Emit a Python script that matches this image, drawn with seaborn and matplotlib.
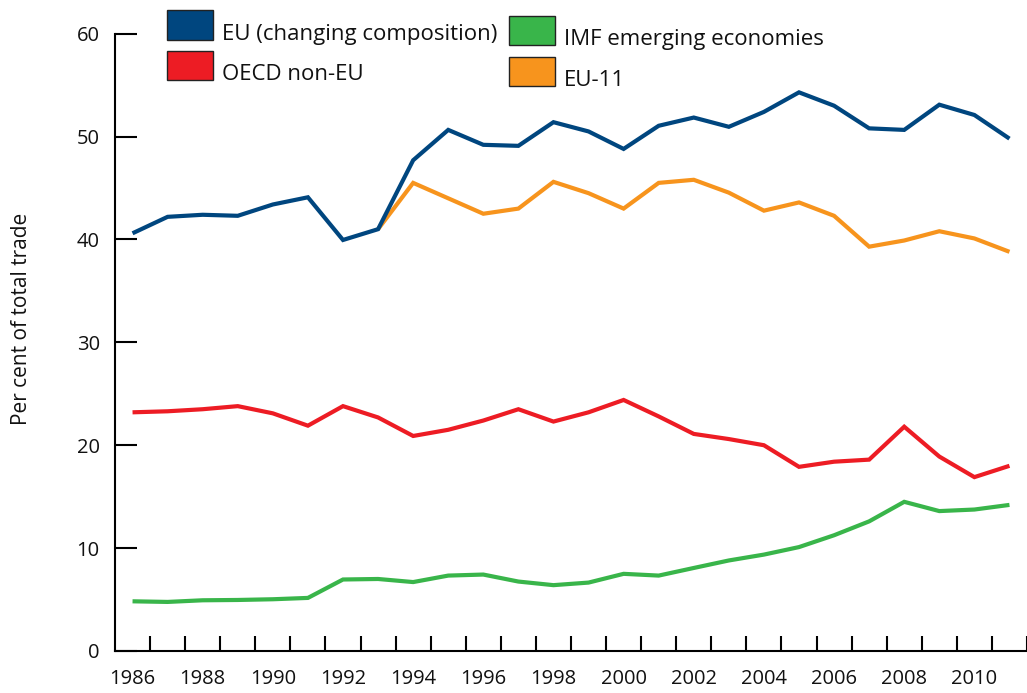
import numpy as np
import pandas as pd
import seaborn as sns
import matplotlib
matplotlib.use("Agg")
import matplotlib.pyplot as plt
from matplotlib.patches import Rectangle

years = list(range(1986, 2012))
eu_changing = [40.6, 42.2, 42.4, 42.3, 43.4, 44.1, 39.95, 41.0, 47.7, 50.65, 49.2, 49.1, 51.4,
               50.5, 48.8, 51.05, 51.85, 50.95, 52.4, 54.3, 53.0, 50.8, 50.65, 53.1, 52.1, 49.8]
oecd_non_eu = [23.2, 23.3, 23.5, 23.8, 23.1, 21.9, 23.8, 22.7, 20.9, 21.5, 22.4, 23.5, 22.3,
               23.2, 24.4, 22.8, 21.1, 20.6, 20.0, 17.9, 18.4, 18.6, 21.8, 18.9, 16.9, 18.0]
imf_emerging = [4.83, 4.77, 4.93, 4.96, 5.03, 5.16, 6.95, 7.0, 6.7, 7.33, 7.43, 6.75, 6.4,
                6.65, 7.5, 7.33, 8.07, 8.8, 9.37, 10.1, 11.25, 12.6, 14.5, 13.6, 13.75, 14.2]
eu_11 = [np.nan] * 7 + [41.0, 45.5, 44.0, 42.5, 43.0, 45.6, 44.5, 43.0, 45.5, 45.8, 44.55,
                        42.8, 43.6, 42.3, 39.3, 39.9, 40.8, 40.1, 38.8]

series_names = ["EU (changing composition)", "OECD non-EU", "IMF emerging economies", "EU-11"]
series_values = [eu_changing, oecd_non_eu, imf_emerging, eu_11]
colors = ["#00467f", "#ed1c24", "#39b54a", "#f7941d"]

sns.set_style("white")
plt.rcParams["font.family"] = ["Open Sans", "DejaVu Sans"]

W, H = 1027, 693
fig = plt.figure(figsize=(W / 100, H / 100), dpi=100)
ax = fig.add_axes([115 / W, 1 - 651 / H, (W - 115) / W, (651 - 33.7) / H])

order = ["EU-11", "IMF emerging economies", "OECD non-EU", "EU (changing composition)"]
for name in order:
    i = series_names.index(name)
    df = pd.DataFrame({"year": years, "value": series_values[i]}).dropna()
    sns.lineplot(data=df, x="year", y="value", color=colors[i], lw=3.0, ax=ax,
                 solid_joinstyle="miter", solid_capstyle="butt")

ax.set_xlim(1985.5, 2011.36)
ax.set_ylim(0, 60)
ax.set_xlabel("")
ax.set_ylabel("")

ax.set_xticks(list(range(1986, 2011, 2)))
ax.set_xticklabels([str(y) for y in range(1986, 2011, 2)])
ax.set_xticks([y + 0.5 for y in range(1986, 2012)], minor=True)
ax.tick_params(axis="x", which="both", bottom=True)
ax.tick_params(axis="x", which="major", length=0, pad=13, labelsize=14.5, colors="#111111")
ax.tick_params(axis="x", which="minor", direction="in", length=11, width=1.5, color="black")
ax.set_yticks([0, 10, 20, 30, 40, 50, 60])
ax.tick_params(axis="y", which="major", left=True, direction="in", length=16, width=1.5,
               color="black", pad=11, labelsize=14.5, labelcolor="#111111")

for s in ["top", "right"]:
    ax.spines[s].set_visible(False)
for s in ["left", "bottom"]:
    ax.spines[s].set_color("black")
    ax.spines[s].set_linewidth(1.5)
ax.grid(False)

fig.text(22 / W, 1 - 318.5 / H, "Per cent of total trade", rotation=90, ha="center",
         va="center", fontsize=15, color="#111111")

# legend entries (manual two-column legend)
leg_pos = [(167, 10, 40), (167, 51, 80), (509, 16, 45), (509, 57, 86)]
for (x0, ytop, ybot), name, c in zip(leg_pos, series_names, colors):
    fig.patches.append(Rectangle((x0 / W, 1 - ybot / H), 46 / W, (ybot - ytop) / H,
                                 transform=fig.transFigure, facecolor=c, edgecolor="#222222",
                                 lw=1.0))
    fig.text((x0 + 55) / W, 1 - ybot / H, name, ha="left", va="baseline", fontsize=16,
             color="#111111")

fig.savefig("out.png", dpi=100)
